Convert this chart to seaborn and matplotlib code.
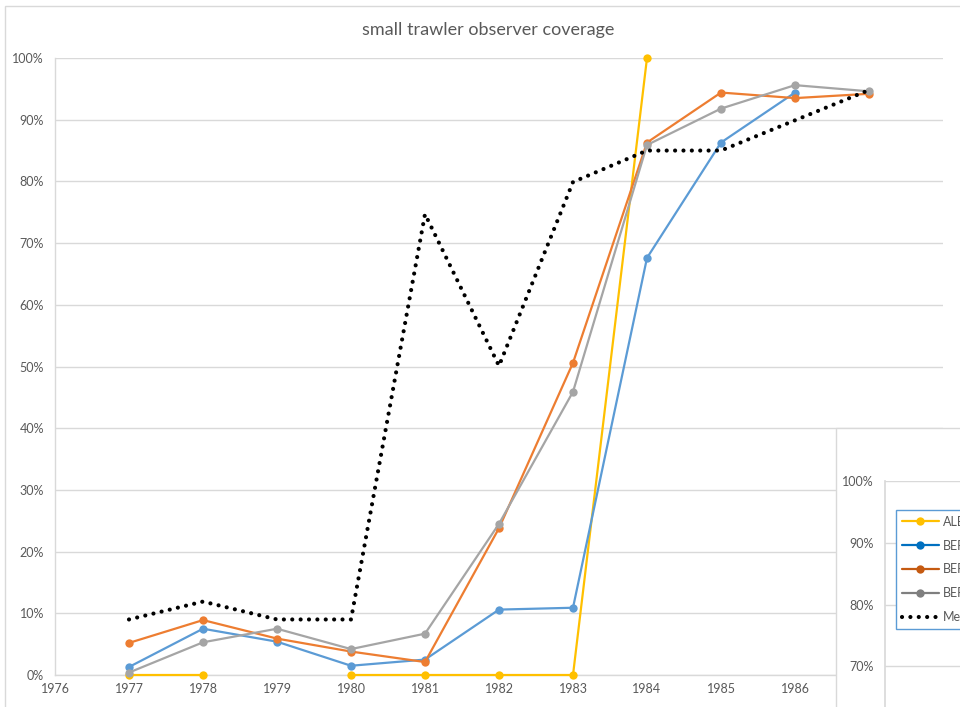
import numpy as np
import pandas as pd
import matplotlib
matplotlib.use("Agg")
import matplotlib.pyplot as plt
from matplotlib.patches import Rectangle
from matplotlib.lines import Line2D
from matplotlib.ticker import PercentFormatter, MultipleLocator
import seaborn as sns

# ---------------- data ----------------
years = [1977, 1978, 1979, 1980, 1981, 1982, 1983, 1984, 1985, 1986, 1987]
ale   = [0.0, 0.0, np.nan, 0.0, 0.0, 0.0, 0.0, 100.0, np.nan, np.nan, np.nan]
ber_blue   = [1.3, 7.5, 5.4, 1.5, 2.5, 10.6, 10.9, 67.6, 86.3, 94.4, np.nan]
ber_orange = [5.2, 8.9, 5.9, 3.8, 2.1, 23.8, 50.6, 86.3, 94.4, 93.5, 94.2]
ber_gray   = [0.4, 5.3, 7.5, 4.2, 6.7, 24.5, 45.9, 85.9, 91.8, 95.6, 94.6]
mean_line  = [9.0, 11.9, 9.0, 9.0, 74.7, 50.1, 79.9, 85.0, 85.0, 89.9, 94.8]
x_ticks = [1976, 1977, 1978, 1979, 1980, 1981, 1982, 1983, 1984, 1985, 1986]
inset_y_ticks = [70, 80, 90, 100]
legend_labels = ["ALE", "BER", "BER", "BER", "Me"]
title = "small trawler observer coverage"

# ---------------- style ----------------
sns.set_theme(style="white")
plt.rcParams["font.family"] = ["Lato", "DejaVu Sans"]
TXT = "#595959"
GRID = "#D9D9D9"

fig = plt.figure(figsize=(9.6, 7.07), dpi=100)
W, H = 960.0, 707.0

# outer chart frame
fig.add_artist(Rectangle((5 / W, -0.1), 1.2, 1.1 - 6 / H, transform=fig.transFigure,
                         facecolor="none", edgecolor=GRID, linewidth=1.0, zorder=-1))

ax = fig.add_axes([55 / W, 1 - 675 / H, 888 / W, 617 / H])
df = pd.DataFrame({"year": years, "ale": ale, "blue": ber_blue,
                   "orange": ber_orange, "gray": ber_gray, "mean": mean_line})


def draw(col, color, **kw):
    s = df[["year", col]]
    ok = s[col].notna()
    grp = s[col].isna().cumsum()
    for _, seg in s[ok].groupby(grp[ok]):
        sns.lineplot(data=seg, x="year", y=col, ax=ax, color=color,
                     clip_on=False, zorder=3, **kw)


line_kw = dict(linewidth=1.6, marker="o", markersize=6, markeredgewidth=0)
draw("ale", "#FFC000", **line_kw)
draw("blue", "#5B9BD5", **line_kw)
draw("orange", "#ED7D31", **line_kw)
draw("gray", "#A5A5A5", **line_kw)
draw("mean", "black", linewidth=3.0, linestyle=(0, (0.01, 2.0)),
     dash_capstyle="round")

ax.set_xlim(1976, 1988)
ax.set_ylim(0, 100)
ax.set_xticks(x_ticks)
ax.set_xticklabels([str(v) for v in x_ticks])
ax.yaxis.set_major_locator(MultipleLocator(10))
ax.yaxis.set_major_formatter(PercentFormatter(100, decimals=0))
ax.set_xlabel("")
ax.set_ylabel("")
ax.grid(axis="y", color=GRID, linewidth=1.0)
ax.grid(axis="x", visible=False)
for side in ["top", "right"]:
    ax.spines[side].set_visible(False)
for side in ["left", "bottom"]:
    ax.spines[side].set_color(GRID)
    ax.spines[side].set_linewidth(1.0)
ax.tick_params(axis="both", length=0, labelsize=9, labelcolor=TXT)
ax.tick_params(axis="y", pad=8)
ax.tick_params(axis="x", pad=6)
ax.set_facecolor("white")

fig.text(488 / W, 1 - 30 / H, title, ha="center", va="center",
         fontsize=13, color=TXT)

# overlapping second chart (partially visible)
fig.add_artist(Rectangle((836 / W, -0.1), 0.5, 0.1 + 1 - 428 / H,
                         transform=fig.transFigure, facecolor="white",
                         edgecolor=GRID, linewidth=1.0, zorder=1))
ax2 = fig.add_axes([885 / W, (H - 728) / H, 0.2, 247 / H])
ax2.set_zorder(2)
ax2.set_ylim(60, 100)
ax2.set_xlim(0, 1)
ax2.set_yticks(inset_y_ticks)
ax2.yaxis.set_major_formatter(PercentFormatter(100, decimals=0))
ax2.set_xticks([])
ax2.grid(axis="y", color=GRID, linewidth=1.0)
for side in ["top", "right", "bottom"]:
    ax2.spines[side].set_visible(False)
ax2.spines["left"].set_color(GRID)
ax2.tick_params(axis="y", length=0, labelsize=9, labelcolor=TXT, pad=8)
ax2.set_facecolor("white")

handles = [
    Line2D([], [], color="#FFC000", lw=1.6, marker="o", ms=6, mew=0),
    Line2D([], [], color="#0070C0", lw=1.6, marker="o", ms=6, mew=0),
    Line2D([], [], color="#C55A11", lw=1.6, marker="o", ms=6, mew=0),
    Line2D([], [], color="#7F7F7F", lw=1.6, marker="o", ms=6, mew=0),
    Line2D([], [], color="black", lw=3.0, linestyle=(0, (0.01, 2.0)),
           dash_capstyle="round"),
]
leg = ax2.legend(handles, legend_labels, loc="upper left",
                 bbox_to_anchor=(11 / 192, 0.3, 0.9, (728 - 510) / 247 - 0.3),
                 mode="expand", borderaxespad=0, fontsize=9,
                 handlelength=3.0, handletextpad=0.3, labelspacing=0.95,
                 borderpad=0.45, fancybox=False, framealpha=1, numpoints=1)
leg.get_frame().set_edgecolor("#5B9BD5")
leg.get_frame().set_linewidth(1.0)
for t in leg.get_texts():
    t.set_color(TXT)

fig.savefig("out.png", dpi=100, facecolor="white")
